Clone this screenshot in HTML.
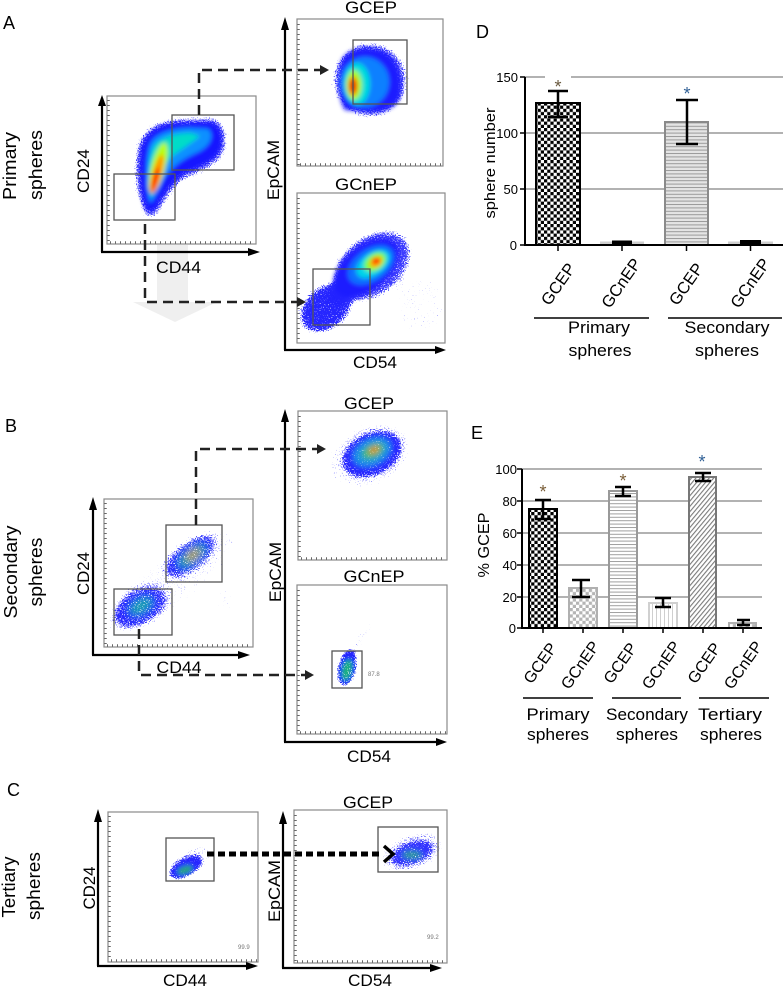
<!DOCTYPE html>
<html><head><meta charset="utf-8"><style>
html,body{margin:0;padding:0;background:#fff}
svg{display:block}
text{font-family:"Liberation Sans",Arial,sans-serif;fill:#000}
</style></head><body>
<svg width="784" height="988" viewBox="0 0 784 988" xmlns="http://www.w3.org/2000/svg">
<defs>
 <filter id="b2" x="-30%" y="-30%" width="160%" height="160%"><feGaussianBlur stdDeviation="2"/></filter>
 <filter id="b3" x="-30%" y="-30%" width="160%" height="160%"><feGaussianBlur stdDeviation="3"/></filter>
 <filter id="b4" x="-40%" y="-40%" width="180%" height="180%"><feGaussianBlur stdDeviation="4"/></filter>
 <filter id="spk" filterUnits="userSpaceOnUse" x="0" y="0" width="784" height="988">
  <feTurbulence type="fractalNoise" baseFrequency="0.85" numOctaves="1" seed="7" result="n0"/>
  <feColorMatrix in="n0" type="matrix" values="0 0 0 0 0  0 0 0 0 0  0 0 0 0 0  1 0 0 0 0" result="n"/>
  <feComposite in="SourceAlpha" in2="n" operator="arithmetic" k1="0" k2="10" k3="10" k4="-10" result="m"/>
  <feColorMatrix in="SourceGraphic" type="matrix" values="1 0 0 0 0  0 1 0 0 0  0 0 1 0 0  0 0 0 60 0" result="full"/>
  <feComposite in="full" in2="m" operator="in"/>
 </filter>
 <pattern id="chk" width="6.4" height="6.4" patternUnits="userSpaceOnUse"><rect width="6.4" height="6.4" fill="#fff"/><rect width="3.2" height="3.2" fill="#000"/><rect x="3.2" y="3.2" width="3.2" height="3.2" fill="#000"/></pattern>
 <pattern id="chkg" width="6.4" height="6.4" patternUnits="userSpaceOnUse"><rect width="6.4" height="6.4" fill="#fff"/><rect width="3.2" height="3.2" fill="#b4b4b4"/><rect x="3.2" y="3.2" width="3.2" height="3.2" fill="#b4b4b4"/></pattern>
 <pattern id="hlD" width="6" height="3.4" patternUnits="userSpaceOnUse"><rect width="6" height="3.4" fill="#e4e4e4"/><rect width="6" height="1" fill="#9a9a9a"/></pattern>
 <pattern id="hlE" width="6" height="3.4" patternUnits="userSpaceOnUse"><rect width="6" height="3.4" fill="#fff"/><rect width="6" height="1" fill="#a0a0a0"/></pattern>
 <pattern id="vl" width="4" height="6" patternUnits="userSpaceOnUse"><rect width="4" height="6" fill="#fff"/><rect width="1" height="6" fill="#cfcfcf"/></pattern>
 <pattern id="dg" width="3.4" height="3.4" patternUnits="userSpaceOnUse" patternTransform="rotate(40)"><rect width="3.4" height="3.4" fill="#fff"/><rect width="1.1" height="3.4" fill="#7a7a7a"/></pattern>
</defs>
<rect width="784" height="988" fill="#fff"/>

<!-- ============ Panel letters ============ -->
<text x="3" y="29" font-size="18">A</text>
<text x="5" y="432" font-size="18">B</text>
<text x="7" y="796" font-size="18">C</text>
<text x="476" y="38" font-size="18">D</text>
<text x="471" y="439" font-size="18">E</text>

<!-- row labels -->
<text transform="translate(16,166) rotate(-90)" text-anchor="middle" font-size="18" textLength="68" lengthAdjust="spacingAndGlyphs">Primary</text>
<text transform="translate(42,165) rotate(-90)" text-anchor="middle" font-size="18" textLength="70" lengthAdjust="spacingAndGlyphs">spheres</text>
<text transform="translate(17,572) rotate(-90)" text-anchor="middle" font-size="18" textLength="93" lengthAdjust="spacingAndGlyphs">Secondary</text>
<text transform="translate(42,572) rotate(-90)" text-anchor="middle" font-size="18" textLength="69" lengthAdjust="spacingAndGlyphs">spheres</text>
<text transform="translate(15,887) rotate(-90)" text-anchor="middle" font-size="18" textLength="61" lengthAdjust="spacingAndGlyphs">Tertiary</text>
<text transform="translate(40,886) rotate(-90)" text-anchor="middle" font-size="18" textLength="68" lengthAdjust="spacingAndGlyphs">spheres</text>

<!-- ============ Panel A ============ -->
<path d="M157,245 L188,245 L188,302 L217,302 L175,322 L133,302 L157,302 Z" fill="#efefef"/>

<rect x="107" y="96" width="149" height="148" fill="none" stroke="#8a8a8a" stroke-width="1.2"/>
<line x1="108.5" y1="100" x2="108.5" y2="243" stroke="#666" stroke-width="2.5" stroke-dasharray="1 4"/>
<line x1="110" y1="242.5" x2="255" y2="242.5" stroke="#666" stroke-width="2.5" stroke-dasharray="1 4"/>
<g filter="url(#spk)"><g filter="url(#b4)" opacity="0.7">
 <path d="M146,218 C134,200 132,165 137,145 C142,128 158,119 180,118 L212,117 C226,120 229,136 226,150 C222,164 204,172 188,178 C172,188 164,205 156,218 Z" fill="#3a3aff"/>
</g></g>
<g filter="url(#b2)">
 <path d="M148,212 C140,200 138,170 141,150 C144,135 155,125 175,123 L210,122 C220,124 224,135 221,148 C217,160 200,167 185,173 C170,182 162,198 155,210 Z" fill="#1616ff"/>
 <path d="M150,203 C146,185 145,160 150,145 C155,133 170,129 190,128 L208,129 C214,134 212,144 200,151 C185,158 172,165 163,180 C158,190 155,198 150,203 Z" fill="#0a90ff"/>
 <path d="M151,198 C148,180 148,160 153,148 C158,138 172,134 190,133 L200,136 C192,143 180,150 170,158 C162,170 157,185 151,198 Z" fill="#00dcc8"/>
 <ellipse cx="158" cy="168" rx="7" ry="26" transform="rotate(15 158 168)" fill="#b8ff10"/>
 <ellipse cx="157" cy="174" rx="4.5" ry="20" transform="rotate(15 157 174)" fill="#ff9a00"/>
 <ellipse cx="155" cy="180" rx="2.6" ry="13" transform="rotate(15 155 180)" fill="#ff2000"/>
</g>
<rect x="172" y="115" width="62" height="55" fill="none" stroke="#555" stroke-width="1.3"/>
<rect x="114" y="174" width="61" height="46" fill="none" stroke="#555" stroke-width="1.3"/>
<line x1="102" y1="252" x2="102" y2="104" stroke="#000" stroke-width="2.2"/>
<polygon points="98,106 102,95 106,106" fill="#000"/>
<line x1="101" y1="252" x2="250" y2="252" stroke="#000" stroke-width="2.2"/>
<polygon points="248,248 260,252 248,256" fill="#000"/>
<text transform="translate(89,171) rotate(-90)" text-anchor="middle" font-size="17" textLength="44" lengthAdjust="spacingAndGlyphs">CD24</text>
<text x="178.5" y="273" text-anchor="middle" font-size="17" textLength="45" lengthAdjust="spacingAndGlyphs">CD44</text>

<line x1="285" y1="350" x2="285" y2="28" stroke="#000" stroke-width="2.2"/>
<polygon points="281,30 285,17 289,30" fill="#000"/>
<line x1="284" y1="350" x2="437" y2="350" stroke="#000" stroke-width="2.2"/>
<polygon points="435,346 446,350 435,354" fill="#000"/>
<text transform="translate(279,170) rotate(-90)" text-anchor="middle" font-size="17" textLength="60" lengthAdjust="spacingAndGlyphs">EpCAM</text>
<text x="375" y="368" text-anchor="middle" font-size="17" textLength="44" lengthAdjust="spacingAndGlyphs">CD54</text>

<!-- GCEP (A) -->
<text x="371" y="13" text-anchor="middle" font-size="17" textLength="52" lengthAdjust="spacingAndGlyphs">GCEP</text>
<rect x="297" y="19" width="146" height="147" fill="none" stroke="#8a8a8a" stroke-width="1.2"/>
<line x1="298.5" y1="24" x2="298.5" y2="165" stroke="#666" stroke-width="2.5" stroke-dasharray="1 4"/>
<line x1="300" y1="164.5" x2="442" y2="164.5" stroke="#666" stroke-width="2.5" stroke-dasharray="1 4"/>
<g filter="url(#spk)"><g filter="url(#b4)" opacity="0.65">
 <ellipse cx="370" cy="80" rx="38" ry="38" fill="#3a3aff"/>
</g></g>
<g filter="url(#b2)">
 <path d="M345,110 C338,100 337,75 342,60 C348,48 365,46 380,50 C395,55 402,70 401,90 C400,105 390,112 370,112 Z" fill="#1c1cff"/>
 <ellipse cx="365" cy="82" rx="24" ry="25" fill="#1080ff"/>
 <ellipse cx="357" cy="84" rx="13" ry="21" fill="#00dcdc"/>
 <ellipse cx="354" cy="85" rx="8" ry="15" fill="#a0ff20"/>
 <ellipse cx="353" cy="86" rx="5" ry="10" fill="#ff9400"/>
 <ellipse cx="353" cy="86" rx="3" ry="7" fill="#e00000"/>
</g>
<rect x="353" y="40" width="54" height="64" fill="none" stroke="#555" stroke-width="1.3"/>

<!-- GCnEP (A) -->
<text x="366" y="190" text-anchor="middle" font-size="17" textLength="62" lengthAdjust="spacingAndGlyphs">GCnEP</text>
<rect x="297" y="193" width="148" height="150" fill="none" stroke="#8a8a8a" stroke-width="1.2"/>
<line x1="298.5" y1="198" x2="298.5" y2="342" stroke="#666" stroke-width="2.5" stroke-dasharray="1 4"/>
<g filter="url(#spk)"><g filter="url(#b4)">
 <ellipse cx="326" cy="308" rx="30" ry="22" transform="rotate(-40 326 308)" fill="#2a2aff" opacity="0.75"/>
 <ellipse cx="372" cy="266" rx="44" ry="30" transform="rotate(-38 372 266)" fill="#3a3aff" opacity="0.7"/>
 <ellipse cx="420" cy="305" rx="28" ry="30" fill="#5050ff" opacity="0.3"/>
</g></g>
<g filter="url(#b2)">
 <ellipse cx="366" cy="268" rx="38" ry="22" transform="rotate(-40 366 268)" fill="#1c1cff"/>
 <ellipse cx="342" cy="292" rx="16" ry="11" transform="rotate(-40 342 292)" fill="#2020ff" opacity="0.8"/>
 <ellipse cx="371" cy="265" rx="26" ry="16" transform="rotate(-35 371 265)" fill="#0a70ff"/>
 <ellipse cx="373" cy="264" rx="19" ry="11" transform="rotate(-35 373 264)" fill="#00d4e8"/>
 <ellipse cx="375" cy="262" rx="12" ry="8" transform="rotate(-35 375 262)" fill="#80ff30"/>
 <ellipse cx="376" cy="262" rx="7" ry="5" transform="rotate(-35 376 262)" fill="#ffb000"/>
 <ellipse cx="376" cy="261" rx="4" ry="3" fill="#ff1000"/>
</g>
<rect x="313" y="269" width="57" height="56" fill="none" stroke="#555" stroke-width="1.3"/>

<polyline points="199,115 199,70 321,70" fill="none" stroke="#222" stroke-width="2.5" stroke-dasharray="10 6"/>
<polygon points="320,65 329,70 320,75" fill="#222"/>
<polyline points="145,224 145,302 298,302" fill="none" stroke="#222" stroke-width="2.5" stroke-dasharray="10 6"/>
<polygon points="297,297 306,302 297,307" fill="#222"/>

<!-- ============ Panel B ============ -->
<rect x="104" y="499" width="149" height="148" fill="none" stroke="#8a8a8a" stroke-width="1.2"/>
<line x1="105.5" y1="503" x2="105.5" y2="646" stroke="#666" stroke-width="2.5" stroke-dasharray="1 4"/>
<line x1="107" y1="645.5" x2="252" y2="645.5" stroke="#666" stroke-width="2.5" stroke-dasharray="1 4"/>
<g filter="url(#spk)"><g filter="url(#b4)">
 <ellipse cx="172" cy="580" rx="82" ry="26" transform="rotate(-38 172 580)" fill="#5a5aff" opacity="0.32"/>
 <ellipse cx="225" cy="600" rx="12" ry="14" fill="#6060ff" opacity="0.3"/>
 <g opacity="0.55">
 <ellipse cx="190" cy="556" rx="30" ry="14" transform="rotate(-38 190 556)" fill="#2020ff"/>
 <ellipse cx="192" cy="556" rx="17" ry="7" transform="rotate(-38 192 556)" fill="#10b090"/>
 <ellipse cx="193" cy="555" rx="8" ry="3.5" transform="rotate(-38 193 555)" fill="#e0b000"/>
 <ellipse cx="140" cy="607" rx="29" ry="18" transform="rotate(-30 140 607)" fill="#2020ff"/>
 <ellipse cx="141" cy="606" rx="13" ry="7" transform="rotate(-30 141 606)" fill="#10b0a0"/>
 </g>
</g></g>
<rect x="166" y="525" width="56" height="57" fill="none" stroke="#555" stroke-width="1.3"/>
<rect x="114" y="589" width="58" height="46" fill="none" stroke="#555" stroke-width="1.3"/>
<line x1="93" y1="655" x2="93" y2="508" stroke="#000" stroke-width="2.2"/>
<polygon points="89,510 93,497 97,510" fill="#000"/>
<line x1="92" y1="655" x2="240" y2="655" stroke="#000" stroke-width="2.2"/>
<polygon points="238,651 250,655 238,659" fill="#000"/>
<text transform="translate(89,573.5) rotate(-90)" text-anchor="middle" font-size="17" textLength="43" lengthAdjust="spacingAndGlyphs">CD24</text>
<text x="179" y="673" text-anchor="middle" font-size="17" textLength="45" lengthAdjust="spacingAndGlyphs">CD44</text>

<line x1="285" y1="742" x2="285" y2="420" stroke="#000" stroke-width="2.2"/>
<polygon points="281,422 285,409 289,422" fill="#000"/>
<line x1="284" y1="742" x2="438" y2="742" stroke="#000" stroke-width="2.2"/>
<polygon points="436,738 447,742 436,746" fill="#000"/>
<text transform="translate(281,572) rotate(-90)" text-anchor="middle" font-size="17" textLength="60" lengthAdjust="spacingAndGlyphs">EpCAM</text>
<text x="369" y="762" text-anchor="middle" font-size="17" textLength="44" lengthAdjust="spacingAndGlyphs">CD54</text>

<!-- GCEP (B) -->
<text x="369" y="409" text-anchor="middle" font-size="17" textLength="50" lengthAdjust="spacingAndGlyphs">GCEP</text>
<rect x="298" y="411" width="149" height="149" fill="none" stroke="#8a8a8a" stroke-width="1.2"/>
<line x1="299.5" y1="416" x2="299.5" y2="559" stroke="#666" stroke-width="2.5" stroke-dasharray="1 4"/>
<line x1="301" y1="558.5" x2="446" y2="558.5" stroke="#666" stroke-width="2.5" stroke-dasharray="1 4"/>
<g filter="url(#spk)"><g filter="url(#b3)">
 <ellipse cx="370" cy="455" rx="44" ry="31" transform="rotate(-25 370 455)" fill="#4a4aff" opacity="0.35"/>
 <g opacity="0.62">
 <ellipse cx="372" cy="454" rx="31" ry="21" transform="rotate(-25 372 454)" fill="#2020ff"/>
 <ellipse cx="372" cy="452" rx="20" ry="13" transform="rotate(-25 372 452)" fill="#10a0e0"/>
 <ellipse cx="373" cy="451" rx="12" ry="7" transform="rotate(-25 373 451)" fill="#40d060"/>
 <ellipse cx="374" cy="450" rx="6" ry="3.5" transform="rotate(-25 374 450)" fill="#f0a000"/>
 </g>
</g></g>

<!-- GCnEP (B) -->
<text x="374" y="582" text-anchor="middle" font-size="17" textLength="61" lengthAdjust="spacingAndGlyphs">GCnEP</text>
<rect x="297" y="585" width="150" height="149" fill="none" stroke="#8a8a8a" stroke-width="1.2"/>
<line x1="298.5" y1="590" x2="298.5" y2="733" stroke="#666" stroke-width="2.5" stroke-dasharray="1 4"/>
<line x1="300" y1="732.5" x2="446" y2="732.5" stroke="#666" stroke-width="2.5" stroke-dasharray="1 4"/>
<g filter="url(#spk)"><g filter="url(#b2)">
 <ellipse cx="360" cy="640" rx="5" ry="24" transform="rotate(35 360 640)" fill="#5050ff" opacity="0.35"/>
 <g opacity="0.7">
 <ellipse cx="347" cy="668" rx="10" ry="19" transform="rotate(12 347 668)" fill="#2020ff"/>
 <ellipse cx="347" cy="670" rx="5" ry="11" transform="rotate(12 347 670)" fill="#20b080"/>
 </g>
</g></g>
<rect x="332" y="651" width="30" height="37" fill="none" stroke="#555" stroke-width="1.3"/>
<text x="368" y="676" font-size="6" style="fill:#777">87.8</text>

<polyline points="196,525 196,449 318,449" fill="none" stroke="#222" stroke-width="2.5" stroke-dasharray="10 6"/>
<polygon points="317,444 326,449 317,454" fill="#222"/>
<polyline points="139,629 139,675 306,675" fill="none" stroke="#222" stroke-width="2.5" stroke-dasharray="10 6"/>
<polygon points="305,670 314,675 305,680" fill="#222"/>

<!-- ============ Panel C ============ -->
<rect x="108" y="812" width="150" height="150" fill="none" stroke="#8a8a8a" stroke-width="1.2"/>
<line x1="109.5" y1="816" x2="109.5" y2="961" stroke="#666" stroke-width="2.5" stroke-dasharray="1 4"/>
<line x1="111" y1="960.5" x2="257" y2="960.5" stroke="#666" stroke-width="2.5" stroke-dasharray="1 4"/>
<g filter="url(#spk)"><g filter="url(#b2)">
 <ellipse cx="190" cy="862" rx="27" ry="13" transform="rotate(-35 190 862)" fill="#5050ff" opacity="0.35"/>
 <g opacity="0.65">
 <ellipse cx="186" cy="867" rx="18" ry="9" transform="rotate(-30 186 867)" fill="#2020ff"/>
 <ellipse cx="185" cy="870" rx="8" ry="4" transform="rotate(-20 185 870)" fill="#20b070"/>
 </g>
</g></g>
<rect x="166" y="838" width="48" height="43" fill="none" stroke="#555" stroke-width="1.3"/>
<text x="238" y="949" font-size="6" style="fill:#777">99.9</text>
<line x1="98" y1="966" x2="98" y2="820" stroke="#000" stroke-width="2.2"/>
<polygon points="94,822 98,809 102,822" fill="#000"/>
<line x1="97" y1="966" x2="248" y2="966" stroke="#000" stroke-width="2.2"/>
<polygon points="246,962 258,966 246,970" fill="#000"/>
<text transform="translate(95,888) rotate(-90)" text-anchor="middle" font-size="17" textLength="43" lengthAdjust="spacingAndGlyphs">CD24</text>
<text x="185" y="986" text-anchor="middle" font-size="17" textLength="44" lengthAdjust="spacingAndGlyphs">CD44</text>

<text x="368" y="808" text-anchor="middle" font-size="17" textLength="50" lengthAdjust="spacingAndGlyphs">GCEP</text>
<rect x="294" y="810" width="153" height="153" fill="none" stroke="#8a8a8a" stroke-width="1.2"/>
<line x1="295.5" y1="815" x2="295.5" y2="962" stroke="#666" stroke-width="2.5" stroke-dasharray="1 4"/>
<line x1="297" y1="961.5" x2="446" y2="961.5" stroke="#666" stroke-width="2.5" stroke-dasharray="1 4"/>
<g filter="url(#spk)"><g filter="url(#b3)">
 <ellipse cx="412" cy="852" rx="34" ry="19" transform="rotate(-20 412 852)" fill="#5050ff" opacity="0.4"/>
 <g opacity="0.55">
 <ellipse cx="412" cy="853" rx="22" ry="11" transform="rotate(-20 412 853)" fill="#2828ff"/>
 <ellipse cx="412" cy="855" rx="10" ry="4" fill="#20b070"/>
 </g>
</g></g>
<rect x="378" y="827" width="60" height="45" fill="none" stroke="#555" stroke-width="1.3"/>
<text x="427" y="939" font-size="6" style="fill:#777">99.2</text>
<line x1="283" y1="968" x2="283" y2="822" stroke="#000" stroke-width="2.2"/>
<polygon points="279,824 283,811 287,824" fill="#000"/>
<line x1="282" y1="968" x2="432" y2="968" stroke="#000" stroke-width="2.2"/>
<polygon points="430,964 442,968 430,972" fill="#000"/>
<text transform="translate(280,891) rotate(-90)" text-anchor="middle" font-size="17" textLength="62" lengthAdjust="spacingAndGlyphs">EpCAM</text>
<text x="370" y="986" text-anchor="middle" font-size="17" textLength="44" lengthAdjust="spacingAndGlyphs">CD54</text>

<line x1="207" y1="854" x2="382" y2="854" stroke="#000" stroke-width="5" stroke-dasharray="7 4"/>
<polyline points="384,846 393,854 384,862" fill="none" stroke="#000" stroke-width="3.5"/>

<!-- ============ Panel D ============ -->
<g stroke="#666" stroke-width="1">
 <line x1="525" y1="77" x2="545" y2="77"/>
 <line x1="571" y1="77" x2="783" y2="77"/>
 <line x1="525" y1="133" x2="783" y2="133"/>
 <line x1="525" y1="189" x2="783" y2="189"/>
</g>
<g font-size="13" text-anchor="end">
 <text x="518" y="82">150</text>
 <text x="518" y="138">100</text>
 <text x="518" y="194">50</text>
 <text x="517" y="250">0</text>
</g>
<text transform="translate(495,163) rotate(-90)" text-anchor="middle" font-size="15" textLength="111" lengthAdjust="spacingAndGlyphs">sphere number</text>
<rect x="536" y="103" width="44" height="142" fill="url(#chk)" stroke="#000" stroke-width="2"/>
<rect x="600" y="241.5" width="44" height="3.5" fill="#cfcfcf"/>
<rect x="612" y="240.5" width="20" height="4.5" fill="#000"/>
<rect x="665" y="122" width="43" height="123" fill="url(#hlD)" stroke="#8a8a8a" stroke-width="2"/>
<rect x="728" y="241.5" width="45" height="3.5" fill="#cfcfcf"/>
<rect x="740" y="240" width="21" height="5" fill="#000"/>
<g stroke="#000" stroke-width="2.5" fill="none">
 <line x1="558" y1="91" x2="558" y2="117"/>
 <line x1="548" y1="91" x2="568" y2="91"/>
 <line x1="548" y1="117" x2="568" y2="117"/>
 <line x1="687" y1="100" x2="687" y2="144"/>
 <line x1="676" y1="100" x2="698" y2="100"/>
 <line x1="676" y1="144" x2="698" y2="144"/>
</g>
<text x="558" y="93" text-anchor="middle" font-size="18" style="fill:#6a5a40">*</text>
<text x="687" y="100" text-anchor="middle" font-size="18" style="fill:#2f5f95">*</text>
<line x1="525" y1="77" x2="525" y2="246" stroke="#000" stroke-width="2"/>
<line x1="524" y1="245" x2="783" y2="245" stroke="#000" stroke-width="2"/>
<g stroke="#000" stroke-width="1.5">
 <line x1="520" y1="77" x2="525" y2="77"/><line x1="520" y1="133" x2="525" y2="133"/>
 <line x1="520" y1="189" x2="525" y2="189"/><line x1="520" y1="245" x2="525" y2="245"/>
 <line x1="558" y1="245" x2="558" y2="251"/><line x1="622" y1="245" x2="622" y2="251"/>
 <line x1="686.5" y1="245" x2="686.5" y2="251"/><line x1="750.5" y1="245" x2="750.5" y2="251"/>
</g>
<g font-size="16.5" text-anchor="middle">
 <text transform="translate(558,284) rotate(-55)" dy="0.35em">GCEP</text>
 <text transform="translate(621,283) rotate(-55)" dy="0.35em">GCnEP</text>
 <text transform="translate(686,284) rotate(-55)" dy="0.35em">GCEP</text>
 <text transform="translate(750,283) rotate(-55)" dy="0.35em">GCnEP</text>
</g>
<line x1="534" y1="318" x2="649" y2="318" stroke="#000" stroke-width="1.6"/>
<line x1="668" y1="318" x2="782" y2="318" stroke="#000" stroke-width="1.6"/>
<g font-size="17" text-anchor="middle">
 <text x="599" y="333" textLength="62" lengthAdjust="spacingAndGlyphs">Primary</text>
 <text x="600" y="356" textLength="63" lengthAdjust="spacingAndGlyphs">spheres</text>
 <text x="727" y="333" textLength="85" lengthAdjust="spacingAndGlyphs">Secondary</text>
 <text x="727" y="356" textLength="64" lengthAdjust="spacingAndGlyphs">spheres</text>
</g>

<!-- ============ Panel E ============ -->
<g stroke="#666" stroke-width="1">
 <line x1="522" y1="469" x2="762" y2="469"/>
 <line x1="522" y1="501" x2="762" y2="501"/>
 <line x1="522" y1="533" x2="762" y2="533"/>
 <line x1="522" y1="565" x2="762" y2="565"/>
 <line x1="522" y1="597" x2="762" y2="597"/>
</g>
<g font-size="13" text-anchor="end">
 <text x="517" y="474">100</text>
 <text x="517" y="506">80</text>
 <text x="517" y="538">60</text>
 <text x="517" y="570">40</text>
 <text x="517" y="602">20</text>
 <text x="516" y="633">0</text>
</g>
<text transform="translate(489,545) rotate(-90)" text-anchor="middle" font-size="16" textLength="65" lengthAdjust="spacingAndGlyphs">% GCEP</text>
<rect x="529" y="509" width="28" height="119" fill="url(#chk)" stroke="#000" stroke-width="2"/>
<rect x="569" y="588" width="28" height="40" fill="url(#chkg)" stroke="#b0b0b0" stroke-width="2"/>
<rect x="609" y="491" width="28" height="137" fill="url(#hlE)" stroke="#999" stroke-width="2"/>
<rect x="649" y="603" width="28" height="25" fill="url(#vl)" stroke="#d0d0d0" stroke-width="2"/>
<rect x="689" y="477" width="27" height="151" fill="url(#dg)" stroke="#777" stroke-width="2"/>
<rect x="729" y="623" width="27" height="5" fill="url(#chkg)" stroke="#b0b0b0" stroke-width="2"/>
<g stroke="#000" stroke-width="2.5" fill="none">
 <line x1="543" y1="500" x2="543" y2="519"/><line x1="535" y1="500" x2="551" y2="500"/><line x1="535" y1="519" x2="551" y2="519"/>
 <line x1="581" y1="580" x2="581" y2="597"/><line x1="572" y1="580" x2="590" y2="580"/><line x1="572" y1="597" x2="590" y2="597"/>
 <line x1="623" y1="487" x2="623" y2="496"/><line x1="615" y1="487" x2="631" y2="487"/><line x1="615" y1="496" x2="631" y2="496"/>
 <line x1="663" y1="598" x2="663" y2="607"/><line x1="655" y1="598" x2="671" y2="598"/><line x1="655" y1="607" x2="671" y2="607"/>
 <line x1="703" y1="473" x2="703" y2="481"/><line x1="695" y1="473" x2="711" y2="473"/><line x1="695" y1="481" x2="711" y2="481"/>
 <line x1="737" y1="620" x2="750" y2="620"/><line x1="737" y1="625" x2="750" y2="625"/><line x1="743" y1="620" x2="743" y2="625"/>
</g>
<text x="543" y="498" text-anchor="middle" font-size="18" style="fill:#7a5e38">*</text>
<text x="623" y="487" text-anchor="middle" font-size="18" style="fill:#7a5e38">*</text>
<text x="702" y="468" text-anchor="middle" font-size="18" style="fill:#2f5f95">*</text>
<line x1="522" y1="469" x2="522" y2="629" stroke="#000" stroke-width="2"/>
<line x1="521" y1="628" x2="762" y2="628" stroke="#000" stroke-width="2"/>
<g stroke="#000" stroke-width="1.5">
 <line x1="517" y1="469" x2="522" y2="469"/><line x1="517" y1="501" x2="522" y2="501"/>
 <line x1="517" y1="533" x2="522" y2="533"/><line x1="517" y1="565" x2="522" y2="565"/>
 <line x1="517" y1="597" x2="522" y2="597"/><line x1="517" y1="628" x2="522" y2="628"/>
 <line x1="543" y1="628" x2="543" y2="633"/><line x1="583" y1="628" x2="583" y2="633"/>
 <line x1="623" y1="628" x2="623" y2="633"/><line x1="663" y1="628" x2="663" y2="633"/>
 <line x1="703" y1="628" x2="703" y2="633"/><line x1="743" y1="628" x2="743" y2="633"/>
</g>
<g font-size="16" text-anchor="middle">
 <text transform="translate(540,663) rotate(-55)" dy="0.35em">GCEP</text>
 <text transform="translate(580,665) rotate(-55)" dy="0.35em">GCnEP</text>
 <text transform="translate(620,663) rotate(-55)" dy="0.35em">GCEP</text>
 <text transform="translate(661,665) rotate(-55)" dy="0.35em">GCnEP</text>
 <text transform="translate(704,663) rotate(-55)" dy="0.35em">GCEP</text>
 <text transform="translate(743,665) rotate(-55)" dy="0.35em">GCnEP</text>
</g>
<g stroke="#000" stroke-width="1.6">
 <line x1="523" y1="698" x2="593" y2="698"/>
 <line x1="612" y1="698" x2="681" y2="698"/>
 <line x1="699" y1="698" x2="769" y2="698"/>
</g>
<g font-size="17" text-anchor="middle">
 <text x="558" y="720" textLength="63" lengthAdjust="spacingAndGlyphs">Primary</text>
 <text x="647" y="720" textLength="82" lengthAdjust="spacingAndGlyphs">Secondary</text>
 <text x="730" y="720" textLength="64" lengthAdjust="spacingAndGlyphs">Tertiary</text>
 <text x="558" y="740" textLength="62" lengthAdjust="spacingAndGlyphs">spheres</text>
 <text x="647" y="740" textLength="62" lengthAdjust="spacingAndGlyphs">spheres</text>
 <text x="731" y="740" textLength="62" lengthAdjust="spacingAndGlyphs">spheres</text>
</g>
</svg>
</body></html>
